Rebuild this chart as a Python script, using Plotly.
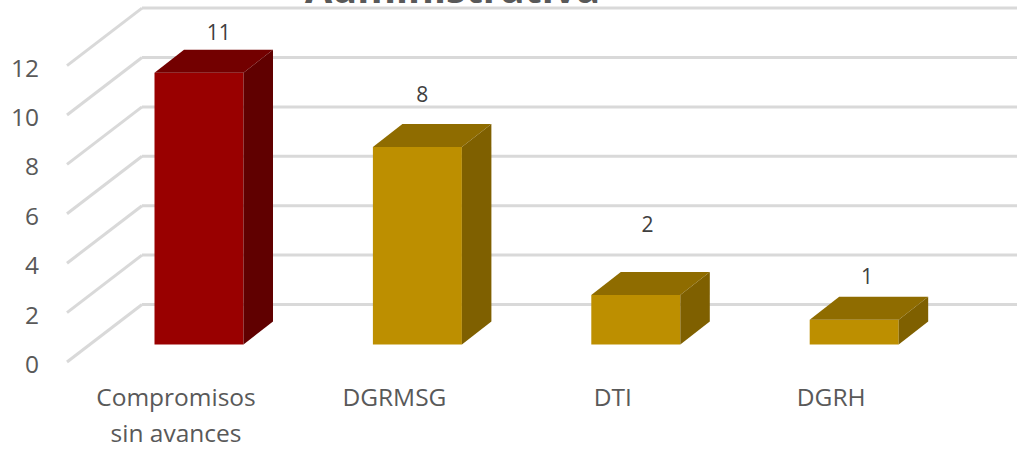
import plotly.graph_objects as go

categories = ["Compromisos<br>sin avances", "DGRMSG", "DTI", "DGRH"]
values = [11, 8, 2, 1]
y_ticks = [0, 2, 4, 6, 8, 10, 12]
title_text = "Administrativa"

FRONT = ["#990000", "#BD8F00", "#BD8F00", "#BD8F00"]
TOP = ["#730000", "#8F6C00", "#8F6C00", "#8F6C00"]
SIDE = ["#600000", "#7F6000", "#7F6000", "#7F6000"]
LABEL_GAP = [0.62, 1.08, 1.85, 0.74]   # label lift above the bar's back top edge (value units)
LABEL_SHIFT_PX = [5, -10, -3, -2]      # label nudge sideways, in pixels

# scale between axis units and the picture
PX_X, PX_Y = 218.4, 24.7
X0_PX, Y0_PX = 199, 344.5
W, H = 1017, 449
L, B = 58, 77
bar_w = 89 / PX_X
dx, dy = 29.5 / PX_X, 23 / PX_Y                # bar depth
wall_dx, wall_y = (142 - X0_PX) / PX_X, (Y0_PX - 304.5) / PX_Y
floor_dx, floor_y = (67 - X0_PX) / PX_X, (Y0_PX - 362) / PX_Y
label_shift = -23 / PX_X
ytick_shift = -2.5 / PX_Y

x_range = [(L - X0_PX) / PX_X, (W - X0_PX) / PX_X]
y_range = [(Y0_PX - (H - B)) / PX_Y, Y0_PX / PX_Y]

fig = go.Figure()
xs = list(range(len(values)))

fig.add_trace(go.Bar(x=xs, y=values, width=bar_w, marker=dict(color=FRONT, line_width=0),
                     showlegend=False, hoverinfo="skip"))

for i, v in zip(xs, values):
    l, r = i - bar_w / 2, i + bar_w / 2
    fig.add_trace(go.Scatter(x=[l, r, r + dx, l + dx, l], y=[v, v, v + dy, v + dy, v],
                             mode="lines", fill="toself", fillcolor=TOP[i], line=dict(width=0),
                             showlegend=False, hoverinfo="skip"))
    fig.add_trace(go.Scatter(x=[r, r + dx, r + dx, r, r], y=[0, dy, v + dy, v, 0],
                             mode="lines", fill="toself", fillcolor=SIDE[i], line=dict(width=0),
                             showlegend=False, hoverinfo="skip"))

fig.add_trace(go.Scatter(
    x=[i + dx / 2 + s / PX_X for i, s in zip(xs, LABEL_SHIFT_PX)],
    y=[v + dy + g for v, g in zip(values, LABEL_GAP)],
    mode="text", text=[str(v) for v in values], textposition="middle center",
    textfont=dict(family="Open Sans", size=21, color="#404040"),
    showlegend=False, hoverinfo="skip"))

shapes = []
for t in y_ticks:
    shapes.append(dict(type="line", layer="below", xref="x", yref="y",
                       x0=floor_dx, y0=t + floor_y, x1=wall_dx, y1=t + wall_y,
                       line=dict(color="#D9D9D9", width=3)))
    shapes.append(dict(type="line", layer="below", xref="x", yref="y",
                       x0=wall_dx, y0=t + wall_y, x1=x_range[1], y1=t + wall_y,
                       line=dict(color="#D9D9D9", width=3)))

small = '<span style="font-size:24.5px">%s</span>'
ticktext = ["<br>".join(small % part for part in c.split("<br>")) for c in categories]

fig.update_layout(
    width=W, height=H, margin=dict(l=L, r=0, t=0, b=B),
    paper_bgcolor="white", plot_bgcolor="rgba(0,0,0,0)",
    shapes=shapes, showlegend=False,
    title=dict(text=title_text, x=452.5 / W, xanchor="center", y=0.994, yanchor="bottom",
               automargin=False,
               font=dict(family="Open Sans", size=39.5, color="#595959", weight="bold")),
    xaxis=dict(range=x_range, showgrid=False, zeroline=False, showline=False, automargin=False,
               tickmode="array", tickvals=[i + label_shift for i in xs], ticktext=ticktext,
               ticks="outside", ticklen=1, tickcolor="rgba(0,0,0,0)", tickangle=0,
               tickfont=dict(family="Open Sans", size=27, color="#595959")),
    yaxis=dict(range=y_range, showgrid=False, zeroline=False, showline=False, automargin=False,
               tickmode="array", tickvals=[t + floor_y + ytick_shift for t in y_ticks],
               ticktext=[str(t) for t in y_ticks],
               ticks="outside", ticklen=13, tickcolor="rgba(0,0,0,0)",
               tickfont=dict(family="Open Sans", size=24.5, color="#595959")),
)

fig.write_html("out.html", config=dict(displayModeBar=False),
               post_script="document.body.style.margin='0';document.body.style.overflow='hidden';")
